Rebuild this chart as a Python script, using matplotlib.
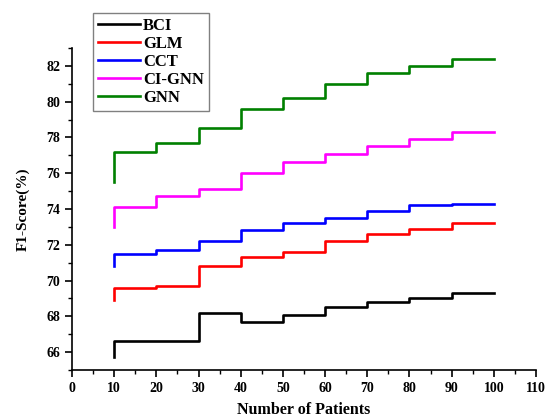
import matplotlib
matplotlib.use("Agg")
import matplotlib.pyplot as plt
from matplotlib.ticker import MultipleLocator

plt.rcParams['font.family'] = ['Liberation Serif', 'DejaVu Serif']
plt.rcParams['font.weight'] = 'bold'

# patients (first x repeated for the starting value of each step line)
patients = [10, 10, 20, 30, 40, 50, 60, 70, 80, 90, 100]
bci    = [65.7, 66.6, 66.6, 68.2, 67.7, 68.1, 68.5, 68.8, 69.0, 69.3, 69.3]
glm    = [68.9, 69.6, 69.7, 70.8, 71.3, 71.6, 72.2, 72.6, 72.9, 73.2, 73.2]
cct    = [70.8, 71.5, 71.7, 72.2, 72.8, 73.2, 73.5, 73.9, 74.2, 74.3, 74.3]
ci_gnn = [73.0, 74.1, 74.7, 75.1, 76.0, 76.6, 77.1, 77.5, 77.9, 78.3, 78.3]
gnn    = [75.5, 77.2, 77.7, 78.5, 79.6, 80.2, 81.0, 81.6, 82.0, 82.4, 82.4]

series = [("BCI", bci, "black"), ("GLM", glm, "red"), ("CCT", cct, "blue"),
          ("CI-GNN", ci_gnn, "magenta"), ("GNN", gnn, "green")]

fig = plt.figure(figsize=(5.47, 4.17), dpi=100)
ax = fig.add_axes([0.1316, 0.1127, 0.8484, 0.7723])

for name, vals, col in series:
    ax.plot(patients, vals, drawstyle='steps-post', color=col, lw=1.9, label=name)

ax.set_xlim(0, 110)
ax.set_ylim(65, 83)
ax.xaxis.set_major_locator(MultipleLocator(10))
ax.xaxis.set_minor_locator(MultipleLocator(5))
ax.yaxis.set_minor_locator(MultipleLocator(1))
ax.set_yticks([66, 68, 70, 72, 74, 76, 78, 80, 82])

for s in ['top', 'right']:
    ax.spines[s].set_visible(False)
for s in ['left', 'bottom']:
    ax.spines[s].set_linewidth(1.2)
ax.tick_params(which='major', direction='out', length=5, width=1.2, labelsize=10)
ax.tick_params(which='minor', direction='out', length=3, width=1.0)

ax.set_xlabel("Number of Patients", fontsize=11.5, fontweight='bold', labelpad=5)
ax.set_ylabel("F1-Score(%)", fontsize=11, fontweight='bold', labelpad=12)

leg = fig.legend(loc='upper left', bbox_to_anchor=(0.155, 0.99), fontsize=12,
                 handlelength=2.5, handletextpad=0.2, labelspacing=0.13,
                 borderpad=0.3, fancybox=False, edgecolor='gray', framealpha=1)
leg.get_frame().set_linewidth(1.0)

fig.savefig("out.png", dpi=100)
